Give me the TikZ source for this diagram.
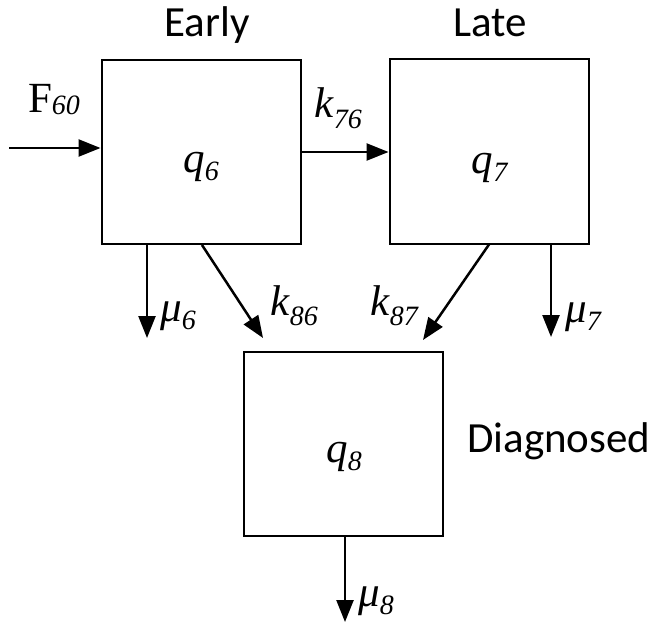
\documentclass[tikz,border=0pt]{standalone}
\usepackage{fontspec}
\setmainfont{Liberation Serif}
\newfontfamily\carl{Carlito}
\usetikzlibrary{arrows.meta}
\newcommand{\ml}[3][8]{\textit{#2}\raisebox{-#1pt}{\fontsize{28}{28}\selectfont\textit{#3}}}
\begin{document}
\begin{tikzpicture}[x=1pt,y=-1pt,
 box/.style={draw, line width=2pt, minimum width=199pt, minimum height=184pt, inner sep=0pt},
 flow/.style={line width=2.5pt, -{Triangle[length=22pt,width=17pt]}},
 sym/.style={font=\fontsize{43}{43}\selectfont, inner sep=0pt, anchor=base},
 word/.style={font=\carl\fontsize{43}{43}\selectfont, inner sep=0pt, anchor=base}]
\useasboundingbox (0,0) rectangle (652,631);
\node[box] (b6) at (201,152) {};
\node[box] (b7) at (489,151.5) {};
\node[box] (b8) at (343.5,444) {};
\node[sym] (q6) at (201,172) {\ml{q}{6}};
\node[sym] (q7) at (490,173) {\ml{q}{7}};
\node[sym] (q8) at (344,462) {\ml{q}{8}};
\node[word] (early) at (207,37) {Early};
\node[word] (late) at (490,37) {Late};
\node[word, anchor=base west] (diag) at (467,452) {Diagnosed};
\node[sym] (f60) at (54,113) {F\raisebox{-2pt}{\fontsize{28}{28}\selectfont\textit{60}}};
\node[sym] (k76) at (338,118) {\ml[10]{k}{76}};
\node[sym, anchor=base west] (mu6) at (160,321) {\ml{μ}{6}};
\node[sym, anchor=base west] (k86) at (270,315) {\ml[10]{k}{86}};
\node[sym, anchor=base east] (k87) at (419,315) {\ml[10]{k}{87}};
\node[sym, anchor=base west] (mu7) at (565,322) {\ml{μ}{7}};
\node[sym, anchor=base west] (mu8) at (358,606) {\ml{μ}{8}};
\coordinate (fin) at (9,148);
\draw[flow] (fin) -- (fin -| b6.west);
\draw[flow] (b6.east) -- (b6.east -| b7.west);
\coordinate (m6) at (147,338);
\draw[flow] (m6 |- b6.south) -- (m6);
\coordinate (t86) at (263,338);
\draw[flow] ([xshift=1pt]b6.south) -- (t86);
\coordinate (t87) at (423,340);
\draw[flow] (b7.south) -- (t87);
\coordinate (m7) at (551,337);
\draw[flow] (m7 |- b7.south) -- (m7);
\coordinate (m8) at (345,622);
\draw[flow] (m8 |- b8.south) -- (m8);
\end{tikzpicture}
\end{document}
